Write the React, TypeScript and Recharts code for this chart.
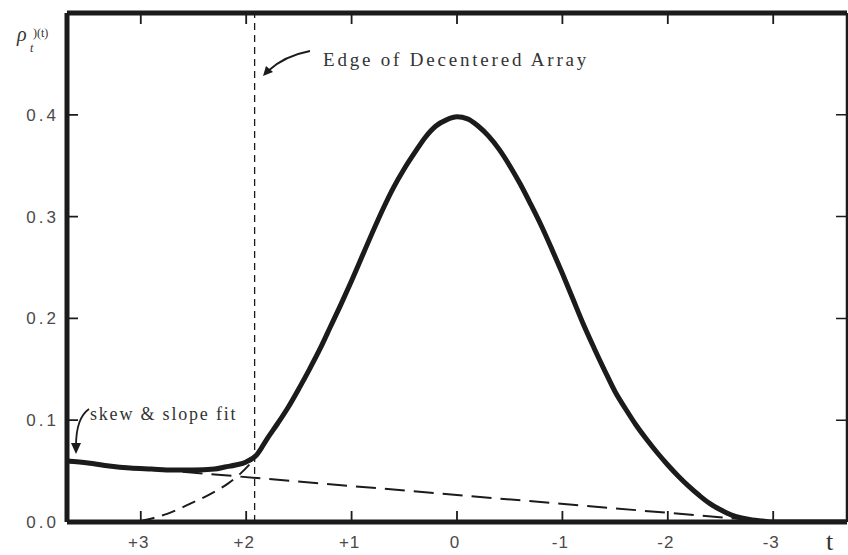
import React from 'react';
import { LineChart, Line, XAxis, YAxis, ReferenceLine } from 'recharts';

// measured curve (t runs from +3.7 on the left to -3.7 on the right)
const tValues = [
  3.7, 3.5, 3.3, 3.1, 2.9, 2.7, 2.5, 2.3, 2.2, 2.1, 2.0, 1.9, 1.8, 1.7, 1.6, 1.5,
  1.4, 1.3, 1.2, 1.1, 1.0, 0.9, 0.8, 0.7, 0.6, 0.5, 0.4, 0.3, 0.2, 0.1, 0.0,
  -0.1, -0.2, -0.3, -0.4, -0.5, -0.6, -0.7, -0.8, -0.9, -1.0, -1.1, -1.2, -1.3,
  -1.4, -1.5, -1.6, -1.7, -1.8, -1.9, -2.0, -2.1, -2.2, -2.3, -2.4, -2.5, -2.6,
  -2.7, -2.8, -2.9, -3.0, -3.7,
];
const rhoValues = [
  0.06, 0.058, 0.055, 0.053, 0.052, 0.051, 0.051, 0.052, 0.054, 0.056, 0.059,
  0.066, 0.082, 0.097, 0.113, 0.131, 0.15, 0.17, 0.192, 0.214, 0.237, 0.261,
  0.285, 0.308, 0.329, 0.347, 0.363, 0.378, 0.389, 0.395, 0.398, 0.396, 0.389,
  0.379, 0.366, 0.35, 0.332, 0.312, 0.291, 0.268, 0.244, 0.219, 0.194, 0.171,
  0.149, 0.128, 0.111, 0.095, 0.081, 0.068, 0.056, 0.045, 0.035, 0.026, 0.018,
  0.012, 0.007, 0.004, 0.002, 0.001, 0.0, 0.0,
];

// straight skew & slope fit (dashed)
const slopeT = [3.7, -2.8];
const slopeRho = [0.059, 0.002];

// gaussian continuation under the edge (dashed)
const tailT = [3.0, 2.75, 2.53, 2.35, 2.17, 2.05, 1.92];
const tailRho = [0.001, 0.008, 0.018, 0.027, 0.038, 0.048, 0.062];

const arrayEdge = 1.92;

const xTicks = [3, 2, 1, 0, -1, -2, -3];
const xTickLabels = ['+3', '+2', '+1', '0', '-1', '-2', '-3'];
const yTicks = [0, 0.1, 0.2, 0.3, 0.4];
const yTickLabels = ['0.0', '0.1', '0.2', '0.3', '0.4'];

const T_MIN = -3.7;
const T_MAX = 3.7;
const RHO_MAX = 0.5;
const Y_TICK_LEN = 0.104;

// plot box (follows from chart size, margins and axis sizes below)
const PLOT = { left: 67, right: 847, top: 13, bottom: 522 };
const TICK_PX = 11;
const tx = (t: number) => PLOT.left + ((T_MAX - t) / (T_MAX - T_MIN)) * (PLOT.right - PLOT.left);
const ty = (v: number) => PLOT.bottom - (v / RHO_MAX) * (PLOT.bottom - PLOT.top);

const curve = tValues.map((t, i) => ({ t, rho: rhoValues[i] }));
const slope = slopeT.map((t, i) => ({ t, rho: slopeRho[i] }));
const tail = tailT.map((t, i) => ({ t, rho: tailRho[i] }));

const rightTicks = yTicks.flatMap((v) => [
  { t: T_MIN, rho: v },
  { t: T_MIN + Y_TICK_LEN, rho: v },
  { t: T_MIN + Y_TICK_LEN, rho: null },
]);

// inward ticks on bottom, top and left frame
const frameTickPath = [
  ...xTicks.map((t) => `M ${tx(t)} ${PLOT.bottom} L ${tx(t)} ${PLOT.bottom - TICK_PX}`),
  ...xTicks.map((t) => `M ${tx(t)} ${PLOT.top} L ${tx(t)} ${PLOT.top + TICK_PX}`),
  ...yTicks.slice(1).map((v) => `M ${PLOT.left} ${ty(v)} L ${PLOT.left + TICK_PX} ${ty(v)}`),
].join(' ');

const INK = '#1b1b1b';
const LABEL = '#4a4a4a';
const SANS = '"Liberation Sans", Arial, sans-serif';
const SERIF = '"Liberation Serif", "Times New Roman", serif';

const BottomLabel = (props: any) => {
  const { x, y, payload } = props;
  const idx = xTicks.indexOf(payload.value);
  return (
    <text x={x - 2} y={y + 26} textAnchor="middle" fontFamily={SANS} fontSize={17} letterSpacing={1} fill={LABEL}>
      {xTickLabels[idx]}
    </text>
  );
};

const LeftLabel = (props: any) => {
  const { x, y, payload } = props;
  const idx = yTicks.indexOf(payload.value);
  return (
    <text x={x - 8} y={y + 6} textAnchor="end" fontFamily={SANS} fontSize={17} letterSpacing={3} fill={LABEL}>
      {yTickLabels[idx]}
    </text>
  );
};

export default function App() {
  return (
    <div style={{ position: 'absolute', left: 0, top: 0, width: 848, height: 555, background: '#fff' }}>
      <LineChart width={848} height={555} margin={{ top: 12, right: 0, bottom: 3, left: 0 }}>
        <XAxis
          dataKey="t"
          type="number"
          domain={[T_MIN, T_MAX]}
          reversed
          allowDataOverflow
          ticks={xTicks}
          tickLine={false}
          tickSize={0}
          tickMargin={0}
          height={30}
          axisLine={{ stroke: INK, strokeWidth: 5 }}
          tick={<BottomLabel />}
        />
        <XAxis
          xAxisId="top"
          orientation="top"
          dataKey="t"
          type="number"
          domain={[T_MIN, T_MAX]}
          reversed
          allowDataOverflow
          ticks={xTicks}
          tickLine={false}
          tick={false}
          height={1}
          axisLine={{ stroke: INK, strokeWidth: 5 }}
        />
        <YAxis
          type="number"
          domain={[0, RHO_MAX]}
          allowDataOverflow
          ticks={yTicks}
          tickLine={false}
          tickSize={0}
          tickMargin={0}
          width={67}
          axisLine={{ stroke: INK, strokeWidth: 5 }}
          tick={<LeftLabel />}
        />
        <YAxis
          yAxisId="right"
          orientation="right"
          type="number"
          domain={[0, RHO_MAX]}
          allowDataOverflow
          ticks={yTicks}
          tickLine={false}
          tick={false}
          width={1}
          axisLine={{ stroke: INK, strokeWidth: 2.5 }}
        />
        <ReferenceLine x={arrayEdge} stroke={INK} strokeWidth={1.3} strokeDasharray="7 5" />
        <Line
          data={slope}
          dataKey="rho"
          type="linear"
          stroke={INK}
          strokeWidth={2}
          strokeDasharray="20 9"
          dot={false}
          isAnimationActive={false}
        />
        <Line
          data={tail}
          dataKey="rho"
          type="monotone"
          stroke={INK}
          strokeWidth={2}
          strokeDasharray="14 8"
          dot={false}
          isAnimationActive={false}
        />
        <Line
          data={curve}
          dataKey="rho"
          type="monotone"
          stroke={INK}
          strokeWidth={5}
          dot={false}
          isAnimationActive={false}
        />
        <Line
          data={rightTicks}
          dataKey="rho"
          type="linear"
          stroke={INK}
          strokeWidth={1.5}
          dot={false}
          activeDot={false}
          isAnimationActive={false}
        />
      </LineChart>
      <svg
        width={848}
        height={555}
        style={{ position: 'absolute', left: 0, top: 0, pointerEvents: 'none' }}
      >
        <path d={frameTickPath} fill="none" stroke={INK} strokeWidth={1.8} />
        <text x={17} y={41} fontFamily={SERIF} fontStyle="italic" fontSize={20} fill="#333">
          ρ
        </text>
        <text x={30} y={52} fontFamily={SERIF} fontStyle="italic" fontSize={12} fill="#333">
          t
        </text>
        <text x={33} y={37} fontFamily={SERIF} fontSize={12} fill="#333">
          )(t)
        </text>
        <text x={323} y={66} fontFamily={SERIF} fontSize={19} letterSpacing={2.8} fill="#333">
          Edge of Decentered Array
        </text>
        <path d="M 310 51 Q 284 56 268 71" fill="none" stroke={INK} strokeWidth={1.8} />
        <path d="M 263 76 L 266 66 L 273 72 Z" fill={INK} />
        <text x={90} y={420} fontFamily={SERIF} fontSize={18} letterSpacing={1.8} fill="#333">
          skew &amp; slope fit
        </text>
        <path d="M 89 409 Q 76 418 76 446" fill="none" stroke={INK} strokeWidth={1.8} />
        <path d="M 76 454 L 71 443 L 81 443 Z" fill={INK} />
        <text x={826} y={550} fontFamily={SERIF} fontSize={26} fill="#333">
          t
        </text>
      </svg>
    </div>
  );
}
